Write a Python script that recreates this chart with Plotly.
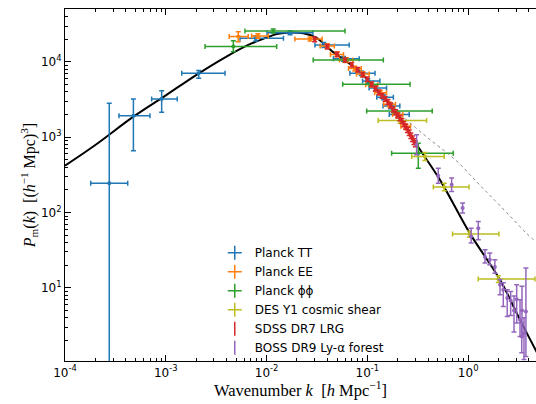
import plotly.graph_objects as go

# ---------------- data ----------------
# linear theory curve
lin_k = [1e-4, 2e-4, 4.7e-4, 1e-3, 2e-3, 4e-3, 7e-3, 0.01, 0.0126, 0.016, 0.0231, 0.031,
         0.0459, 0.0624, 0.0845, 0.106, 0.144, 0.181, 0.227, 0.308, 0.525, 1.04, 2.07, 3.26, 4.8]
lin_P = [420, 790, 1850, 3600, 6700, 11800, 17500, 21000, 23500, 24500, 24000, 21000,
         13500, 10100, 7430, 5300, 3470, 2310, 1550, 800, 272, 53, 12.8, 3.8, 1.4]
# non-linear curve (dotted)
nl_k = [0.1, 0.15, 0.21, 0.3, 0.42, 0.6, 0.83, 1.2, 1.64, 2.5, 3.8, 4.8]
nl_P = [5700, 3500, 2050, 1350, 925, 640, 440, 260, 170, 95, 53, 40]

# Planck TT
tt_k = [2.75e-4, 4.77e-4, 9.1e-4, 2.12e-3, 7.8e-3, 0.0171, 0.037, 0.058, 0.087, 0.101, 0.12, 0.145, 0.17, 0.2]
tt_P = [246, 1924, 3230, 7080, 20600, 24500, 16800, 11000, 7100, 5600, 4500, 3400, 2600, 2000]
tt_klo = [1.8e-4, 3.43e-4, 7.24e-4, 1.44e-3, 5.45e-3, 0.0101, 0.0302, 0.046, 0.0671, 0.0897, 0.104, 0.124, 0.143, 0.165]
tt_khi = [4.19e-4, 6.97e-4, 1.3e-3, 3.87e-3, 0.0147, 0.0288, 0.066, 0.083, 0.119, 0.133, 0.155, 0.181, 0.21, 0.26]
tt_Plo = [0.01, 661, 2150, 6080, 19000, 23000, 15500, 10200, 6600, 5200, 4150, 3150, 2400, 1850]
tt_Phi = [2830, 3230, 4160, 7680, 22200, 26000, 18100, 11800, 7600, 6000, 4850, 3650, 2800, 2150]

# Planck EE
ee_k = [5.24e-3, 8.2e-3, 0.027, 0.04, 0.05, 0.062, 0.075, 0.09, 0.11, 0.135, 0.165, 0.2, 0.24]
ee_P = [21700, 22100, 20200, 16300, 12600, 10600, 8200, 6900, 5000, 3900, 2750, 2000, 1400]
ee_klo = [4.26e-3, 7.1e-3, 0.0191, 0.034, 0.043, 0.053, 0.065, 0.078, 0.096, 0.118, 0.145, 0.178, 0.215]
ee_khi = [6.58e-3, 0.0104, 0.0356, 0.047, 0.058, 0.072, 0.087, 0.104, 0.127, 0.155, 0.19, 0.225, 0.268]
ee_Plo = [18600, 20600, 19000, 15200, 11700, 9850, 7600, 6400, 4650, 3620, 2550, 1860, 1300]
ee_Phi = [25200, 23600, 21400, 17400, 13500, 11350, 8800, 7400, 5350, 4180, 2950, 2140, 1500]

# Planck phi-phi
pp_k = [4.68e-3, 0.01164, 0.06, 0.108, 0.183, 0.32]
pp_P = [16000, 25800, 10600, 5060, 2240, 615]
pp_klo = [2.45e-3, 6.1e-3, 0.029, 0.0569, 0.0984, 0.174]
pp_khi = [0.0126, 0.06, 0.144, 0.265, 0.44, 0.711]
pp_Plo = [13700, 24300, 10100, 4800, 2120, 389]
pp_Phi = [19100, 27400, 11100, 5320, 2360, 836]

# DES Y1 cosmic shear
des_k = [0.211, 0.372, 0.579, 1.03, 1.99]
des_P = [1670, 555, 218, 51.9, 13.1]
des_klo = [0.128, 0.275, 0.451, 0.70, 1.26]
des_khi = [0.387, 0.579, 1.02, 2.02, 4.6]
des_Plo = [1540, 490, 195, 47, 11.8]
des_Phi = [1810, 630, 245, 57, 14.5]

# SDSS DR7 LRG
lrg_k = [0.03, 0.04, 0.05, 0.06, 0.07, 0.08, 0.09, 0.10, 0.11, 0.12, 0.13, 0.14, 0.15, 0.16,
         0.17, 0.18, 0.19, 0.20, 0.21, 0.22, 0.23, 0.24, 0.25, 0.26, 0.27, 0.28, 0.29, 0.30]
lrg_P = [20000, 16000, 12700, 10600, 9200, 7900, 6800, 5900, 5050, 4450, 3950, 3550, 3250, 2950,
         2650, 2350, 2150, 1950, 1800, 1650, 1500, 1380, 1260, 1150, 1050, 960, 880, 820]
lrg_sig = [1400, 1100, 850, 700, 620, 540, 470, 410, 360, 320, 290, 260, 240, 220,
           200, 180, 165, 150, 140, 130, 120, 112, 104, 96, 88, 82, 76, 70]

# BOSS DR9 Ly-alpha forest
ly_k = [0.308, 0.505, 0.686, 0.881, 1.07, 1.26, 1.47, 1.64, 1.84, 2.07, 2.23, 2.44, 2.64, 2.85,
        3.03, 3.27, 3.40, 3.42, 3.58, 3.74]
ly_P = [795, 308, 234, 115, 48.2, 62.2, 25.7, 23.6, 18.9, 11.0, 9.46, 7.35, 6.8, 5.0,
        7.1, 3.78, 2.27, 5.0, 2.5, 4.88]
ly_lo = [585, 246, 190, 98.6, 39.4, 43.5, 21.4, 20.3, 15.7, 8.1, 5.69, 4.19, 4.3, 2.6,
         3.42, 2.27, 1.38, 2.27, 1.12, 1.23]
ly_hi = [1077, 389, 287, 134, 62.2, 76.2, 32.1, 29.0, 23.6, 12.9, 11.7, 9.46, 9.0, 7.8,
         11.0, 6.99, 3.45, 10.5, 4.03, 18.4]

x_tickvals = [1e-4, 1e-3, 1e-2, 1e-1, 1e0]
x_ticktext = ["10<sup>-4</sup>", "10<sup>-3</sup>", "10<sup>-2</sup>", "10<sup>-1</sup>", "10<sup>0</sup>"]
y_tickvals = [1e1, 1e2, 1e3, 1e4]
y_ticktext = ["10<sup>1</sup>", "10<sup>2</sup>", "10<sup>3</sup>", "10<sup>4</sup>"]

# ---------------- figure ----------------
C_TT, C_EE, C_PP, C_DES, C_LRG, C_LY = "#1f77b4", "#ff7f0e", "#2ca02c", "#bcbd22", "#d62728", "#9467bd"

fig = go.Figure()
fig.add_trace(go.Scatter(x=nl_k, y=nl_P, mode="lines", line=dict(color="#8a8a8a", width=1, dash="dot",
                                                                 shape="spline"), showlegend=False))
fig.add_trace(go.Scatter(x=lin_k, y=lin_P, mode="lines", line=dict(color="black", width=2, shape="spline"),
                         showlegend=False))


def xy_err(k, P, klo, khi, Plo, Phi, color):
    return go.Scatter(
        x=k, y=P, mode="markers", marker=dict(color=color, size=4), showlegend=False,
        error_x=dict(type="data", symmetric=False, array=[b - a for a, b in zip(k, khi)],
                     arrayminus=[a - b for a, b in zip(k, klo)], color=color, thickness=1.5, width=2.5),
        error_y=dict(type="data", symmetric=False, array=[b - a for a, b in zip(P, Phi)],
                     arrayminus=[a - b for a, b in zip(P, Plo)], color=color, thickness=1.5, width=2.5),
    )


fig.add_trace(xy_err(tt_k, tt_P, tt_klo, tt_khi, tt_Plo, tt_Phi, C_TT))
fig.add_trace(xy_err(ee_k, ee_P, ee_klo, ee_khi, ee_Plo, ee_Phi, C_EE))
fig.add_trace(xy_err(pp_k, pp_P, pp_klo, pp_khi, pp_Plo, pp_Phi, C_PP))
fig.add_trace(xy_err(des_k, des_P, des_klo, des_khi, des_Plo, des_Phi, C_DES))
fig.add_trace(go.Scatter(x=lrg_k, y=lrg_P, mode="markers", marker=dict(color=C_LRG, size=4), showlegend=False,
                         error_y=dict(type="data", array=lrg_sig, color=C_LRG, thickness=1.5, width=2.5)))
fig.add_trace(go.Scatter(x=ly_k, y=ly_P, mode="markers", marker=dict(color=C_LY, size=4), showlegend=False,
                         error_y=dict(type="data", symmetric=False,
                                      array=[b - a for a, b in zip(ly_P, ly_hi)],
                                      arrayminus=[a - b for a, b in zip(ly_P, ly_lo)],
                                      color=C_LY, thickness=1.5, width=2.5)))

# legend entries
legend_items = [("Planck TT", C_TT, "cross-thin"), ("Planck EE", C_EE, "cross-thin"),
                ("Planck ϕϕ", C_PP, "cross-thin"), ("DES Y1 cosmic shear", C_DES, "cross-thin"),
                ("SDSS DR7 LRG", C_LRG, "line-ns"), ("BOSS DR9 Ly-α forest", C_LY, "line-ns")]
for name, col, sym in legend_items:
    fig.add_trace(go.Scatter(x=[None], y=[None], mode="markers", name=name,
                             marker=dict(symbol=sym, size=10, color=col, line=dict(color=col, width=1.5))))

axis_common = dict(type="log", showgrid=False, zeroline=False, showline=True, linecolor="black", linewidth=1.2,
                   ticks="inside", ticklen=6, tickwidth=1, tickcolor="black",
                   tickfont=dict(family="DejaVu Sans", size=12, color="black"),
                   minor=dict(ticks="inside", ticklen=3, tickwidth=0.8, tickcolor="black", dtick="D1", showgrid=False))

fig.update_xaxes(**axis_common, range=[-4, 0.673], tickvals=x_tickvals, ticktext=x_ticktext, mirror="allticks",
                 title=dict(text="Wavenumber <i>k</i>  [<i>h</i> Mpc<sup>−1</sup>]",
                            font=dict(family="Liberation Serif", size=16.5, color="black"), standoff=5))
fig.update_yaxes(**axis_common, range=[0.03, 4.703], tickvals=y_tickvals, ticktext=y_ticktext, mirror=False,
                 title=dict(text="<i>P</i><sub>m</sub>(<i>k</i>)  [(<i>h</i><sup>−1</sup> Mpc)<sup>3</sup>]",
                            font=dict(family="Liberation Serif", size=16, color="black"), standoff=1))

fig.update_layout(
    width=536, height=404, margin=dict(l=65, r=0, t=9, b=43, autoexpand=False),
    plot_bgcolor="white", paper_bgcolor="white",
    legend=dict(x=0.318, y=0.349, xanchor="left", yanchor="top", bgcolor="rgba(0,0,0,0)",
                font=dict(family="DejaVu Sans", size=12, color="black"), tracegroupgap=0),
)

fig.write_html("out.html", config={"displayModeBar": False},
               post_script="document.body.style.margin='0';document.body.style.overflow='hidden';")
